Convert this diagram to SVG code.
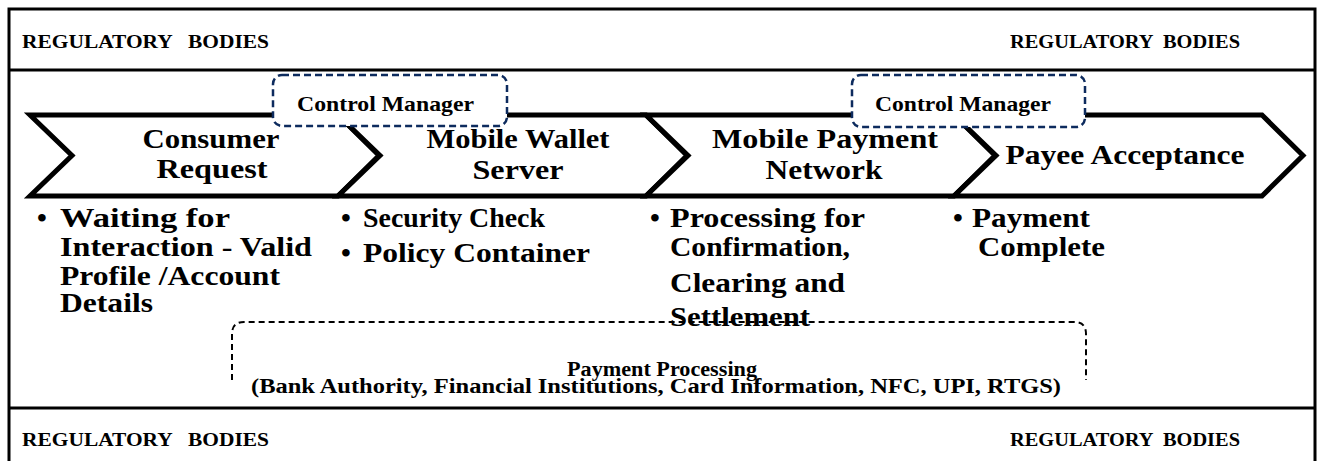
<svg xmlns="http://www.w3.org/2000/svg" width="1320" height="461" viewBox="0 0 1320 461">
  <defs>
    <style>
      text { font-family: "Liberation Serif", "DejaVu Serif Condensed", "DejaVu Serif", serif; font-stretch: condensed; font-weight: bold; fill: #000; }
      .frame { fill: none; stroke: #000; stroke-width: 3; }
      .reg { font-size: 19px; }
      .chev { fill: #fff; stroke: #000; stroke-width: 5; stroke-linejoin: miter; }
      .stage { font-size: 28px; text-anchor: middle; }
      .ctrl rect { fill: #fff; stroke: #0d2b5e; stroke-width: 2.5; stroke-dasharray: 7 4; }
      .ctrl text { font-size: 21px; }
      .item { font-size: 28px; }
      .proc { fill: none; stroke: #000; stroke-width: 2; stroke-dasharray: 6 4; }
      .proc-label { font-size: 20px; text-anchor: middle; }
    </style>
  </defs>

  <!-- outer frame with regulatory bands -->
  <g id="frame">
    <rect class="frame" x="9" y="9" width="1306" height="470"/>
    <line class="frame" x1="9" y1="70" x2="1315" y2="70"/>
    <line class="frame" x1="9" y1="408" x2="1315" y2="408" stroke-width="4"/>
    <text class="reg" x="22" y="48" textLength="247" lengthAdjust="spacingAndGlyphs" xml:space="preserve">REGULATORY   BODIES</text>
    <text class="reg" x="1010" y="48" textLength="230" lengthAdjust="spacingAndGlyphs" xml:space="preserve">REGULATORY  BODIES</text>
    <text class="reg" x="22" y="446" textLength="247" lengthAdjust="spacingAndGlyphs" xml:space="preserve">REGULATORY   BODIES</text>
    <text class="reg" x="1010" y="446" textLength="230" lengthAdjust="spacingAndGlyphs" xml:space="preserve">REGULATORY  BODIES</text>
  </g>

  <!-- process chevrons -->
  <g id="stage-consumer">
    <path class="chev" d="M30,115 H338 L379,155.5 L338,196 H30 L72,155.5 Z"/>
    <text class="stage" x="211" y="148" textLength="137" lengthAdjust="spacingAndGlyphs">Consumer</text>
    <text class="stage" x="212" y="178" textLength="111" lengthAdjust="spacingAndGlyphs">Request</text>
  </g>
  <g id="stage-wallet">
    <path class="chev" d="M338,115 H646 L687,155.5 L646,196 H338 L380,155.5 Z"/>
    <text class="stage" x="518" y="148" textLength="183" lengthAdjust="spacingAndGlyphs">Mobile Wallet</text>
    <text class="stage" x="518" y="179" textLength="91" lengthAdjust="spacingAndGlyphs">Server</text>
  </g>
  <g id="stage-network">
    <path class="chev" d="M646,115 H954 L995,155.5 L954,196 H646 L688,155.5 Z"/>
    <text class="stage" x="825" y="148" textLength="226" lengthAdjust="spacingAndGlyphs">Mobile Payment</text>
    <text class="stage" x="824" y="179" textLength="117" lengthAdjust="spacingAndGlyphs">Network</text>
  </g>
  <g id="stage-payee">
    <path class="chev" d="M954,115 H1262 L1303,155.5 L1262,196 H954 L996,155.5 Z"/>
    <text class="stage" x="1125" y="164" textLength="239" lengthAdjust="spacingAndGlyphs">Payee Acceptance</text>
  </g>

  <!-- control managers -->
  <g id="control-manager-1" class="ctrl">
    <rect x="273" y="75" width="234" height="51" rx="9"/>
    <text x="297" y="111" textLength="177" lengthAdjust="spacingAndGlyphs">Control Manager</text>
  </g>
  <g id="control-manager-2" class="ctrl">
    <rect x="852" y="75" width="233" height="52" rx="9"/>
    <text x="875" y="111" textLength="176" lengthAdjust="spacingAndGlyphs">Control Manager</text>
  </g>

  <!-- stage details -->
  <g id="details-consumer" class="item">
    <text x="37" y="227">•</text>
    <text x="60" y="227" textLength="170" lengthAdjust="spacingAndGlyphs">Waiting for</text>
    <text x="60" y="256" textLength="252" lengthAdjust="spacingAndGlyphs">Interaction - Valid</text>
    <text x="60" y="285" textLength="220" lengthAdjust="spacingAndGlyphs">Profile /Account</text>
    <text x="60" y="312" textLength="93" lengthAdjust="spacingAndGlyphs">Details</text>
  </g>
  <g id="details-wallet" class="item">
    <text x="341" y="227">•</text>
    <text x="363" y="227" textLength="182" lengthAdjust="spacingAndGlyphs">Security Check</text>
    <text x="341" y="262">•</text>
    <text x="363" y="262" textLength="227" lengthAdjust="spacingAndGlyphs">Policy Container</text>
  </g>
  <g id="details-network" class="item">
    <text x="650" y="227">•</text>
    <text x="670" y="227" textLength="195" lengthAdjust="spacingAndGlyphs">Processing for</text>
    <text x="670" y="256" textLength="180" lengthAdjust="spacingAndGlyphs">Confirmation,</text>
    <text x="670" y="292" textLength="175" lengthAdjust="spacingAndGlyphs">Clearing and</text>
    <text x="670" y="326" textLength="140" lengthAdjust="spacingAndGlyphs">Settlement</text>
  </g>
  <g id="details-payee" class="item">
    <text x="953" y="227">•</text>
    <text x="972" y="227" textLength="118" lengthAdjust="spacingAndGlyphs">Payment</text>
    <text x="978" y="256" textLength="127" lengthAdjust="spacingAndGlyphs">Complete</text>
  </g>

  <!-- payment processing bracket -->
  <g id="payment-processing">
    <path class="proc" d="M232,380 V334 Q232,322 244,322 H1074 Q1086,322 1086,334 V380"/>
    <text class="proc-label" x="662" y="376" textLength="190" lengthAdjust="spacingAndGlyphs">Payment Processing</text>
    <text class="proc-label" x="656" y="393" textLength="810" lengthAdjust="spacingAndGlyphs">(Bank Authority, Financial Institutions, Card Information, NFC, UPI, RTGS)</text>
  </g>
</svg>
